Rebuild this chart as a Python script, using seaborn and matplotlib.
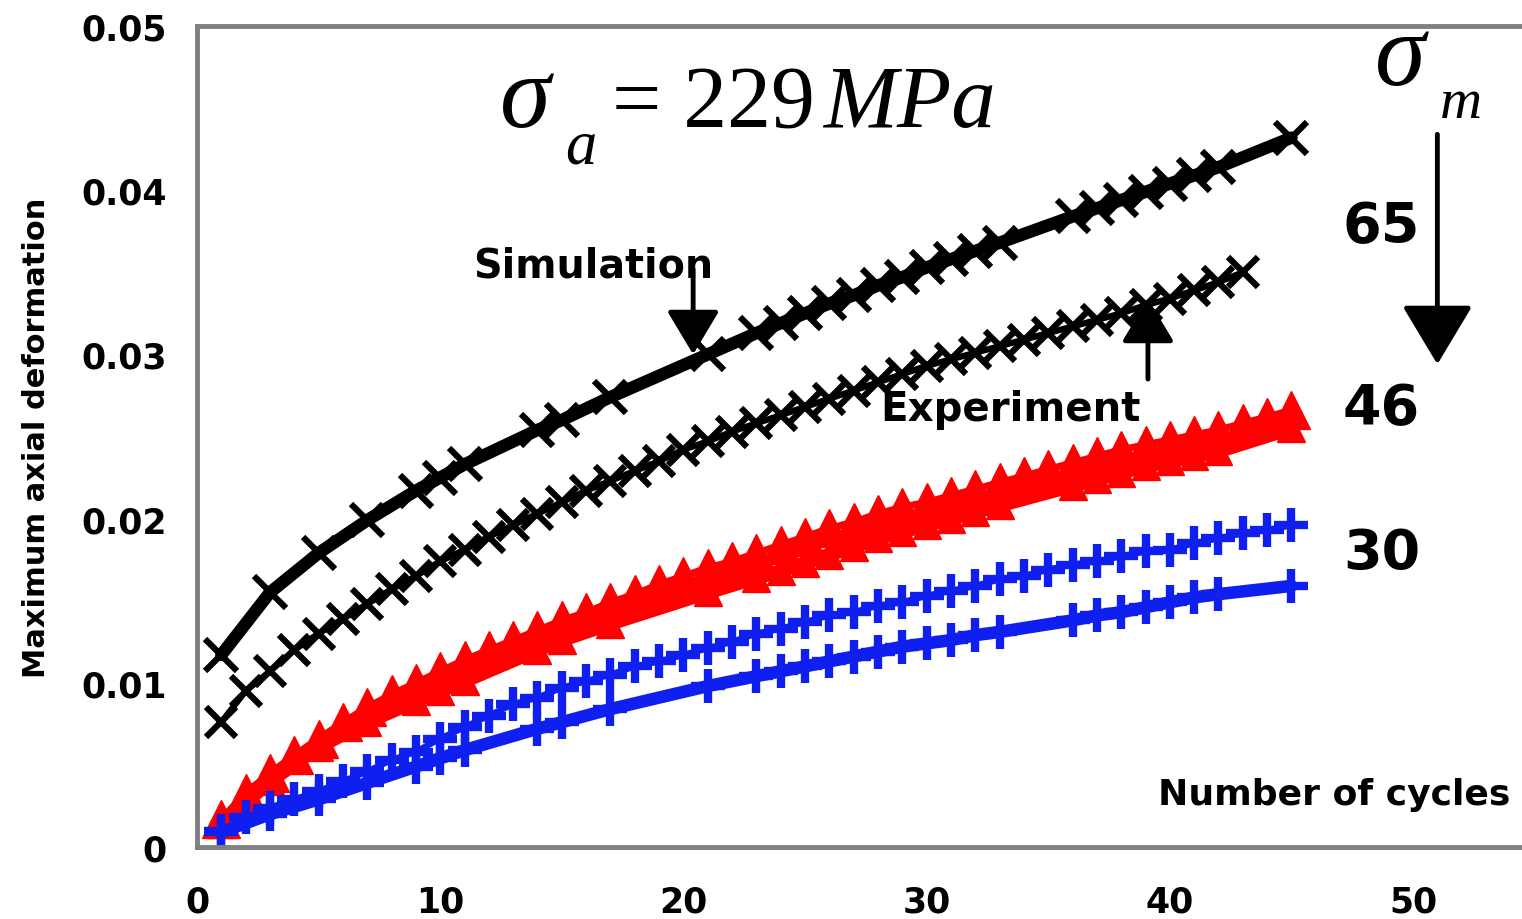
import numpy as np
import matplotlib
matplotlib.use("Agg")
import matplotlib.pyplot as plt
import seaborn as sns

# ---- data ----
exp_cycles = list(range(1, 46))
exp_cycles_65 = list(range(1, 44))
sim_cycles = [1, 3, 5, 7, 9, 10, 11, 14, 15, 17, 21, 23, 24, 25, 26, 27, 28, 29, 30,
              31, 32, 33, 36, 37, 38, 39, 40, 41, 42, 45]

# sigma_m = 65 MPa
sim_65 = [0.0117, 0.0155, 0.0179, 0.0199, 0.0217, 0.0225, 0.0233, 0.0254, 0.0260, 0.0274,
          0.0300, 0.0313, 0.0319, 0.0325, 0.0331, 0.0336, 0.0342, 0.0347, 0.0353, 0.0358,
          0.0363, 0.0368, 0.0384, 0.0389, 0.0394, 0.0399, 0.0404, 0.0409, 0.0414, 0.0432]
exp_65 = [0.0076, 0.0095, 0.0107, 0.0120, 0.0130, 0.0139, 0.0148, 0.0157, 0.0165, 0.0174,
          0.0181, 0.0189, 0.0196, 0.0203, 0.0210, 0.0217, 0.0223, 0.0229, 0.0235, 0.0242,
          0.0247, 0.0253, 0.0258, 0.0263, 0.0268, 0.0273, 0.0278, 0.0283, 0.0288, 0.0293,
          0.0297, 0.0301, 0.0305, 0.0309, 0.0313, 0.0317, 0.0321, 0.0325, 0.0330, 0.0334,
          0.0339, 0.0344, 0.0350]

# sigma_m = 46 MPa
sim_46 = [0.0014, 0.0040, 0.0061, 0.0076, 0.0089, 0.0095, 0.0101, 0.0120, 0.0126, 0.0136,
          0.0155, 0.0164, 0.0168, 0.0173, 0.0178, 0.0183, 0.0188, 0.0192, 0.0196, 0.0200,
          0.0204, 0.0208, 0.0220, 0.0224, 0.0228, 0.0232, 0.0235, 0.0238, 0.0241, 0.0255]
exp_46 = [0.0017, 0.0033, 0.0045, 0.0056, 0.0066, 0.0076, 0.0085, 0.0093, 0.0100, 0.0107,
          0.0114, 0.0120, 0.0126, 0.0132, 0.0138, 0.0143, 0.0149, 0.0154, 0.0160, 0.0165,
          0.0170, 0.0174, 0.0179, 0.0184, 0.0189, 0.0194, 0.0198, 0.0203, 0.0207, 0.0210,
          0.0214, 0.0218, 0.0222, 0.0226, 0.0230, 0.0234, 0.0238, 0.0242, 0.0245, 0.0248,
          0.0251, 0.0254, 0.0258, 0.0262, 0.0266]

# sigma_m = 30 MPa
sim_30 = [0.0009, 0.0020, 0.0029, 0.0039, 0.0049, 0.0054, 0.0059, 0.0072, 0.0076, 0.0084,
          0.0098, 0.0104, 0.0107, 0.0110, 0.0113, 0.0116, 0.0119, 0.0122, 0.0124, 0.0126,
          0.0129, 0.0131, 0.0138, 0.0141, 0.0143, 0.0146, 0.0149, 0.0152, 0.0154, 0.0159]
exp_30 = [0.0010, 0.0018, 0.0024, 0.0029, 0.0034, 0.0040, 0.0046, 0.0053, 0.0058, 0.0066,
          0.0073, 0.0080, 0.0087, 0.0091, 0.0097, 0.0101, 0.0105, 0.0110, 0.0113, 0.0117,
          0.0121, 0.0125, 0.0130, 0.0133, 0.0137, 0.0141, 0.0143, 0.0147, 0.0149, 0.0153,
          0.0156, 0.0159, 0.0163, 0.0165, 0.0169, 0.0172, 0.0174, 0.0177, 0.0180, 0.0181,
          0.0185, 0.0188, 0.0191, 0.0193, 0.0196]

x_ticks = [0, 10, 20, 30, 40, 50]
y_ticks = [0, 0.01, 0.02, 0.03, 0.04, 0.05]
y_tick_labels = ["0", "0.01", "0.02", "0.03", "0.04", "0.05"]

BLUE = "#0f1ff0"
RED = "#ff0000"

W, H = 1522, 920


def fpx(x, y):
    # figure pixel -> figure fraction
    return x / W, 1 - y / H


sns.set_style("white")
plt.rcParams["font.family"] = ["DejaVu Sans"]

fig = plt.figure(figsize=(W / 100, H / 100), dpi=100)
ax = fig.add_axes([197 / W, 72 / H, 1325 / W, 821 / H])

# =========================
# sigma_m = 65 (black)
# =========================
sns.lineplot(x=sim_cycles, y=sim_65, ax=ax, color="black", linewidth=9,
             marker="x", markersize=23, markeredgewidth=4.5, markeredgecolor="black")
sns.lineplot(x=exp_cycles_65, y=exp_65, ax=ax, color="black", linewidth=4.5,
             marker="x", markersize=22, markeredgewidth=4.5, markeredgecolor="black")

# =========================
# sigma_m = 46 (red)
# =========================
sns.lineplot(x=sim_cycles, y=sim_46, ax=ax, color=RED, linewidth=10,
             marker="^", markersize=20, markeredgewidth=1, markeredgecolor=RED)
sns.lineplot(x=exp_cycles, y=exp_46, ax=ax, color=RED, linewidth=5,
             marker="^", markersize=27, markeredgewidth=1, markeredgecolor=RED)

# =========================
# sigma_m = 30 (blue)
# =========================
sns.lineplot(x=sim_cycles, y=sim_30, ax=ax, color=BLUE, linewidth=9,
             marker="+", markersize=24, markeredgewidth=6, markeredgecolor=BLUE)
sns.lineplot(x=exp_cycles, y=exp_30, ax=ax, color=BLUE, linewidth=4.5,
             marker="+", markersize=24, markeredgewidth=6, markeredgecolor=BLUE)

# axes look
ax.set_xlim(0, 54.48)
ax.set_ylim(0, 0.05)
ax.set_xticks(x_ticks)
ax.set_yticks(y_ticks)
ax.set_yticklabels(y_tick_labels)
ax.tick_params(direction="out", length=6, width=1, color="black",
               labelsize=25, labelcolor="black")
ax.tick_params(axis="y", pad=16)
ax.tick_params(axis="x", pad=21)
for lab in ax.get_xticklabels() + ax.get_yticklabels():
    lab.set_fontweight("bold")
for side in ["left", "top", "bottom"]:
    ax.spines[side].set_color("#808080")
    ax.spines[side].set_linewidth(3.5)
ax.spines["right"].set_visible(False)
ax.set_ylabel("Maximum axial deformation", fontsize=22, fontweight="bold",
              color="black")
ax.yaxis.set_label_coords(-0.11, 0.5)

# annotations
bold = dict(fontweight="bold", color="black", va="baseline", ha="left")
fig.text(*fpx(473, 277), "Simulation", fontsize=28.5, **bold)
fig.text(*fpx(880, 421), "Experiment", fontsize=29, **bold)
fig.text(*fpx(1158, 805), "Number of cycles", fontsize=26, **bold)
fig.text(*fpx(1343, 242), "65", fontsize=40, **bold)
fig.text(*fpx(1343, 424), "46", fontsize=40, **bold)
fig.text(*fpx(1343, 569), "30", fontsize=40, **bold)

serif = dict(family="Liberation Serif", color="black", va="baseline", ha="left")
fig.text(*fpx(500, 127), "σ", fontsize=74, style="italic", **serif)
fig.text(*fpx(565, 163), "a", fontsize=45, style="italic", **serif)
fig.text(*fpx(612, 127), "= 229", fontsize=63, **serif)
fig.text(*fpx(823, 127), "MPa", fontsize=64, style="italic", **serif)
fig.text(*fpx(1375, 85), "σ", fontsize=74, style="italic", **serif)
fig.text(*fpx(1440, 118), "m", fontsize=42, style="italic", **serif)

arrow = dict(arrowstyle="-|>,head_length=1.0,head_width=0.6", color="black",
             lw=3.5, shrinkA=0, shrinkB=0, mutation_scale=27)
ax.annotate("", xy=(20.4, 0.0300), xytext=(20.4, 0.0352), arrowprops=arrow,
            annotation_clip=False)
ax.annotate("", xy=(39.1, 0.0334), xytext=(39.1, 0.0285), arrowprops=arrow,
            annotation_clip=False)
big_arrow = dict(arrow, arrowstyle="-|>,head_length=1.0,head_width=0.6",
                 mutation_scale=37)
ax.annotate("", xy=(51.0, 0.0294), xytext=(51.0, 0.0434), arrowprops=big_arrow,
            annotation_clip=False)

fig.savefig("out.png", dpi=100, facecolor="white")
